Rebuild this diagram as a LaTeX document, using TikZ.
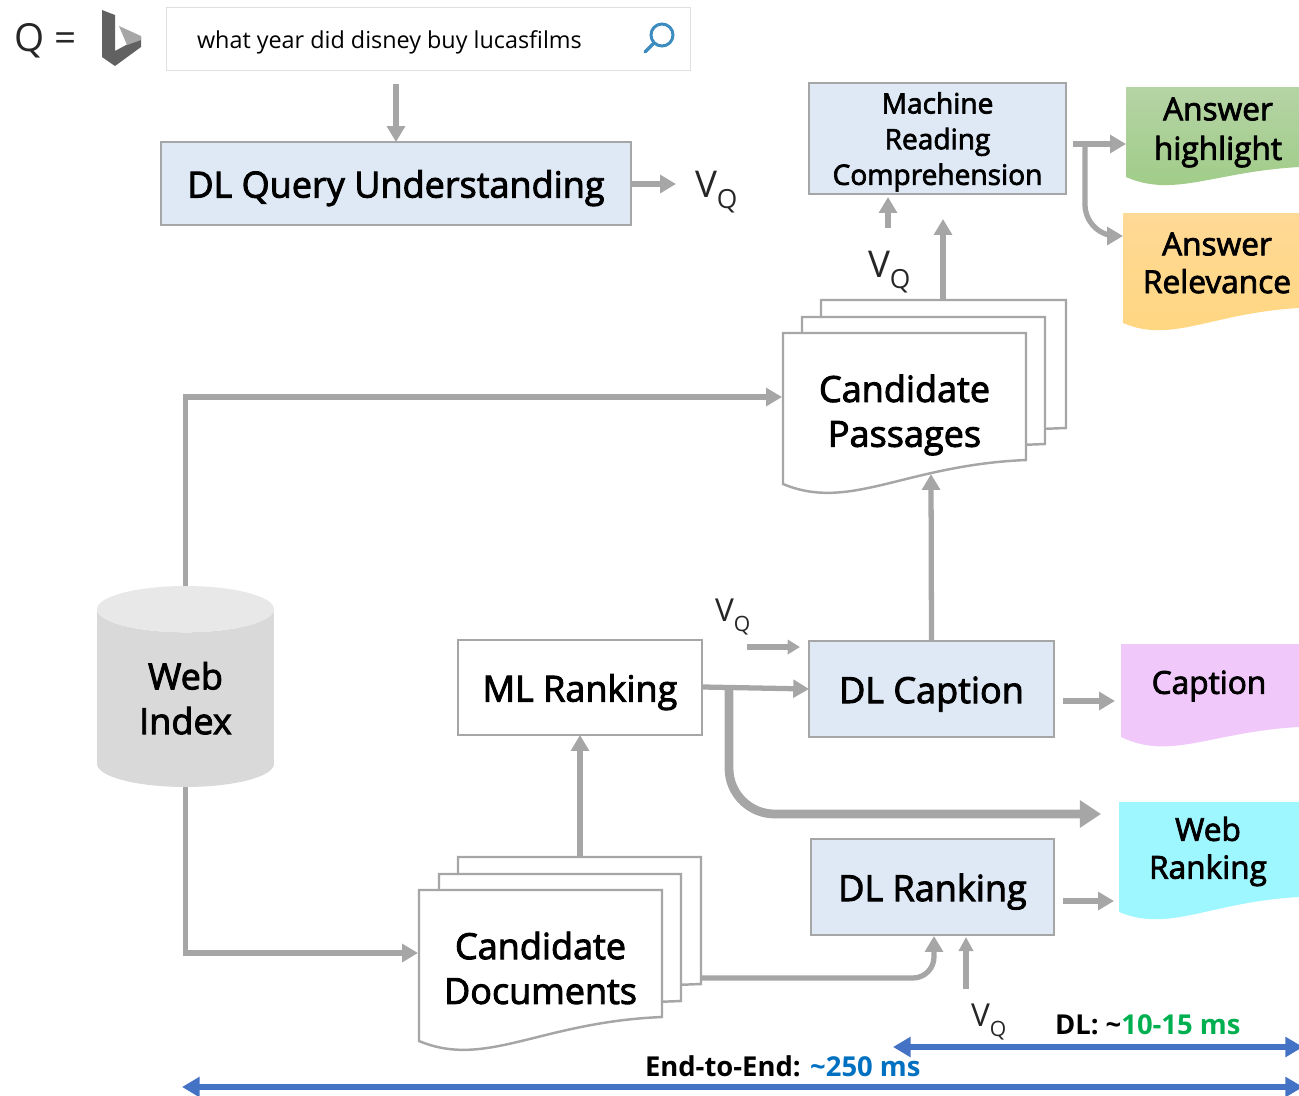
\documentclass[tikz,border=0pt]{standalone}
\usepackage{fontspec}
\setmainfont{Open Sans}
\newfontfamily\boxfamily[FakeBold=2.5]{Open Sans}
\usetikzlibrary{arrows.meta,shapes.geometric,shadows}
\definecolor{flowgray}{HTML}{A6A6A6}
\definecolor{boxblue}{HTML}{DEE9F5}
\definecolor{spanblue}{HTML}{4472C4}
\definecolor{lensblue}{HTML}{3C8CC0}
\newcommand{\vq}[1]{V\raisebox{-.32em}{\fontsize{#1}{#1}\selectfont Q}}
\tikzset{
  boxnode/.style={draw=flowgray,line width=1.5pt,inner sep=0pt,outer sep=0pt,align=center},
  dlnode/.style={boxnode,fill=boxblue},
  oneline/.style={text height=16pt,text depth=0pt},
  textnode/.style={inner sep=0pt,outer sep=0pt,align=center},
  docline/.style={draw=flowgray,line width=1.4pt,fill=white},
  flow/.style={draw=flowgray,line width=3pt,-{Triangle[length=9pt,width=10pt]}},
  thickflow/.style={draw=flowgray,line width=5pt,rounded corners=26pt,-{Triangle[length=12pt,width=15pt]}},
  spanline/.style={draw=spanblue,line width=3.2pt,{Triangle[length=10pt,width=11pt]}-{Triangle[length=10pt,width=11pt]}},
  bigfont/.style={font=\boxfamily\fontsize{20.5}{25.5}\selectfont},
  midfont/.style={font=\boxfamily\fontsize{18}{21.5}\selectfont},
  smallfont/.style={font=\boxfamily\fontsize{16}{20.3}\selectfont},
  vqfont/.style={font=\fontsize{21}{21}\selectfont,text=black!85},
  spanfont/.style={font=\fontsize{15.6}{18}\selectfont\bfseries}
}
\begin{document}
\begin{tikzpicture}[x=0.02cm,y=-0.02cm]
\useasboundingbox (0,0) rectangle (1299,1096);

% query bar:
\node[textnode,font=\fontsize{22}{26}\selectfont,text=black!85,anchor=base west] (qlabel) at (14,51) {Q =};
\fill[black!62] (102,10) -- (115,15) -- (115,51) -- (141,37) -- (141,47) -- (115,66) -- (102,57) -- cycle;
\fill[black!35] (119,26) -- (141,36) -- (141,40) -- (127,45) -- cycle;
\node[fill=white,draw=black!12,line width=.5pt,inner sep=0pt,minimum width=10.48cm,minimum height=1.26cm,drop shadow={shadow xshift=.8pt,shadow yshift=-.8pt,opacity=.45}] (search) at (428,38.5) {};
\node[textnode,font=\fontsize{13.3}{16}\selectfont,anchor=base west] (qtext) at (197,48) {what year did disney buy lucasfilms};
\draw[color=lensblue,line width=1.7pt] (662,35) circle [radius=11];
\draw[color=lensblue,line width=2pt,line cap=round] (654,43) -- (645,52);

% boxes:
\node[dlnode,bigfont,oneline,minimum width=9.4cm,minimum height=1.66cm] (queryunit) at (396,183.5) {DL Query Understanding};
\node[dlnode,smallfont,text depth=0pt,minimum width=5.14cm,minimum height=2.22cm] (reading) at (937.5,138.5) {Machine\\Reading\\Comprehension};
\node[boxnode,fill=white,bigfont,oneline,minimum width=4.88cm,minimum height=1.9cm] (mlrank) at (580,687.5) {ML Ranking};
\node[dlnode,bigfont,oneline,minimum width=4.9cm,minimum height=1.92cm] (dlcaption) at (931.5,689) {DL Caption};
\node[dlnode,bigfont,oneline,minimum width=4.86cm,minimum height=1.92cm] (dlrank) at (932.5,887) {DL Ranking};

% candidate stacks:
\draw[docline] (821,300) -- (1066,300) -- (1066,428) -- (1040,429) -- (1040,440) -- (821,440) -- cycle;
\draw[docline] (802,317) -- (1045,317) -- (1045,444) -- (1020,445) -- (1020,455) -- (802,455) -- cycle;
\draw[docline] (783,333) -- (1026,333) -- (1026,460) .. controls (905,465) and (850,512) .. (783,484) -- cycle;
\node[textnode,bigfont,minimum width=4.86cm,minimum height=3.18cm] (passages) at (904.5,415) {Candidate\\Passages};
\draw[docline] (458,857) -- (701,857) -- (701,984) -- (675,985) -- (675,995) -- (458,995) -- cycle;
\draw[docline] (439,874) -- (681,874) -- (681,1001) -- (655,1002) -- (655,1012) -- (439,1012) -- cycle;
\draw[docline] (419,890) -- (662,890) -- (662,1017) .. controls (540,1022) and (486,1069) .. (419,1041) -- cycle;
\node[textnode,bigfont,minimum width=4.86cm,minimum height=3.16cm] (documents) at (540.5,968) {Candidate\\Documents};

% output pages:
\definecolor{hightop}{HTML}{B5D4A5}
\definecolor{highbot}{HTML}{9ECB85}
\definecolor{reltop}{HTML}{FFD996}
\definecolor{relbot}{HTML}{FFD67F}
\shade[top color=hightop,bottom color=highbot] (1126,87) -- (1299,87) -- (1299,167) .. controls (1213,172) and (1174,198) .. (1126,177) -- cycle;
\node[textnode,midfont,minimum width=3.46cm,minimum height=1.96cm] (highlight) at (1218,132.5) {Answer\\[1pt]highlight};
\shade[top color=reltop,bottom color=relbot] (1123,213) -- (1299,213) -- (1299,308) .. controls (1211,313) and (1172,344) .. (1123,323) -- cycle;
\node[textnode,midfont,minimum width=3.52cm,minimum height=2.2cm] (relevance) at (1217,263) {Answer\\Relevance};
\fill[fill={rgb,255:red,240;green,200;blue,250}] (1121,644) -- (1299,644) -- (1299,727) .. controls (1210,732) and (1171,761) .. (1121,737) -- cycle;
\node[textnode,midfont,minimum width=3.56cm,minimum height=1.8cm] (caption) at (1209,686) {Caption};
\fill[fill={rgb,255:red,158;green,246;blue,255}] (1119,802) -- (1299,802) -- (1299,897) .. controls (1209,902) and (1170,933) .. (1119,912) -- cycle;
\node[textnode,midfont,minimum width=3.6cm,minimum height=2.2cm] (webrank) at (1208,851.5) {Web\\Ranking};

% web index:
\node[cylinder,shape border rotate=90,aspect=.5,anchor=shape center,cylinder uses custom fill,cylinder body fill=black!15,cylinder end fill=black!9,inner sep=0pt,outer sep=0pt,minimum width=3.54cm,minimum height=4.02cm,bigfont,align=center] (index) at (185.5,686.5) {Web\\Index};

% free ends:
\coordinate (queryin) at (396,84);
\coordinate (queryout) at (632,184);
\coordinate (queryvec) at (676,184);
\coordinate (readvecfrom) at (888,228);
\coordinate (readvecto) at (888,197);
\coordinate (passto) at (943,219);
\coordinate (passfrom) at (943,300);
\coordinate (readout) at (1073,144);
\coordinate (readturn) at (1085,144);
\coordinate (highin) at (1126,144);
\coordinate (relin) at (1123,236);
\coordinate (passin) at (782,397);
\coordinate (passbelow) at (931,474);
\coordinate (docin) at (418,953);
\coordinate (docup) at (580,857);
\coordinate (mlout) at (703,687);
\coordinate (mlturn) at (729,690);
\coordinate (webin) at (1101,814);
\coordinate (capvecfrom) at (747,647);
\coordinate (capvecto) at (800,647);
\coordinate (capfrom) at (1063,701);
\coordinate (capto) at (1115,701);
\coordinate (rankfrom) at (1063,901);
\coordinate (rankto) at (1114,901);
\coordinate (docout) at (702,978);
\coordinate (rankin) at (934,936);
\coordinate (rankvecfrom) at (966,989);
\coordinate (rankvecto) at (966,937);
\coordinate (dlleft) at (893,1047);
\coordinate (dlright) at (1303,1047);
\coordinate (endleft) at (182,1087);
\coordinate (endright) at (1303,1087);

% connectors:
\draw[flow] (queryin) -- (queryunit.north);
\draw[flow] (queryout) -- (queryvec);
\draw[flow] (readvecfrom) -- (readvecto);
\draw[flow] (passfrom) -- (passto);
\draw[flow] (readout) -- (highin);
\draw[flow,rounded corners=18pt] (readturn) |- (relin);
\draw[flow] (index.north) |- (passin);
\draw[flow] (index.south) |- (docin);
\draw[flow] (dlcaption.north) -- (passbelow);
\draw[flow] (docup) -- (mlrank.south);
\draw[flow] (mlout) -- (dlcaption.west);
\draw[flow,-{Triangle[length=7pt,width=8pt]}] (capvecfrom) -- (capvecto);
\draw[flow] (capfrom) -- (capto);
\draw[flow] (rankfrom) -- (rankto);
\draw[thickflow] (mlturn) |- (webin);
\draw[flow,rounded corners=12pt] (docout) -| (rankin);
\draw[flow,-{Triangle[length=8pt,width=8pt]}] (rankvecfrom) -- (rankvecto);
\draw[spanline] (dlleft) -- (dlright);
\draw[spanline] (endleft) -- (endright);

% labels:
\node[textnode,vqfont,anchor=base west] (vqa) at (695,197) {\vq{15}};
\node[textnode,vqfont,anchor=base west] (vqb) at (868,277) {\vq{15}};
\node[textnode,vqfont,font=\fontsize{18}{18}\selectfont,anchor=base west] (vqc) at (715,621) {\vq{12}};
\node[textnode,vqfont,font=\fontsize{18}{18}\selectfont,anchor=base west] (vqd) at (971,1026) {\vq{12}};
\node[textnode,spanfont,anchor=base west] (dllabel) at (1055,1034) {DL: \textasciitilde\textcolor[HTML]{00B050}{10-15 ms}};
\node[textnode,spanfont,anchor=base west] (endlabel) at (645,1076) {End-to-End: \textcolor[HTML]{0070C0}{\textasciitilde 250 ms}};

\end{tikzpicture}
\end{document}
